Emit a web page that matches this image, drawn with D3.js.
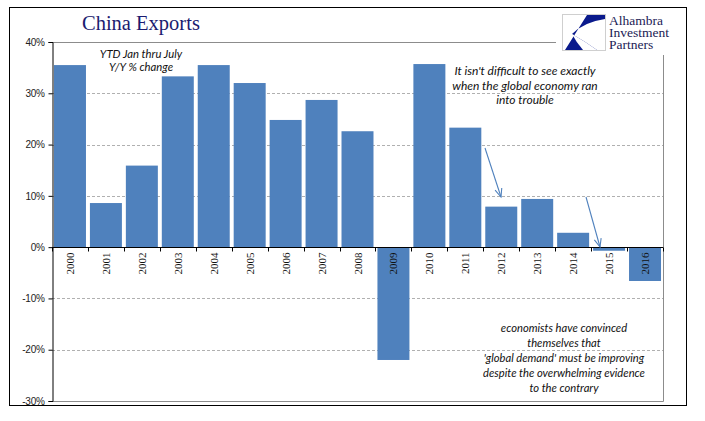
<!DOCTYPE html>
<html><head><meta charset="utf-8">
<script src="https://cdn.jsdelivr.net/npm/d3@7"></script>
<style>body{margin:0;background:#fff}svg{display:block}</style>
</head><body>
<script>
const years = ["2000","2001","2002","2003","2004","2005","2006","2007","2008","2009","2010","2011","2012","2013","2014","2015","2016"];
const values = [35.5, 8.6, 15.9, 33.3, 35.5, 32.0, 24.8, 28.7, 22.6, -22.0, 35.7, 23.3, 7.9, 9.4, 2.8, -0.7, -6.6];
const yTicks = [-30, -20, -10, 0, 10, 20, 30, 40];
const title = "China Exports";
const subtitle = ["YTD Jan thru July", "Y/Y % change"];
const note1 = ["It isn't difficult to see exactly", "when the global economy ran", "into trouble"];
const note2 = ["economists have convinced", "themselves that", "'global demand' must be improving", "despite the overwhelming evidence", "to the contrary"];
const logoText = ["Alhambra", "Investment", "Partners"];

const W = 705, H = 421;
const svg = d3.select("body").append("svg").attr("width", W).attr("height", H);
const L = 52, R = 663, T = 42, B = 401;
const x = d3.scaleBand().domain(years).range([L, R]).paddingInner(0.11).paddingOuter(0.055);
const y = d3.scaleLinear().domain([-30, 40]).range([B, T]);
const barColor = "#4f81bd";

// outer frame
svg.append("rect").attr("x", 9.5).attr("y", 7.5).attr("width", 677).attr("height", 398)
  .attr("fill", "#fff").attr("stroke", "#000").attr("stroke-width", 1);

// gridlines
svg.append("g").selectAll("line").data(yTicks.filter(d => d !== 0 && d !== -30 && d !== 40)).join("line")
  .attr("x1", L).attr("x2", R).attr("y1", d => Math.round(y(d)) + 0.5).attr("y2", d => Math.round(y(d)) + 0.5)
  .attr("stroke", "#b0b0b0").attr("stroke-dasharray", "3,2");

// plot frame (gray)
svg.append("path").attr("d", `M${L},${T + 0.5}H${R + 0.5}V${B + 0.5}H${L}`)
  .attr("fill", "none").attr("stroke", "#8c8c8c");

// bars
svg.append("g").selectAll("rect").data(values).join("rect")
  .attr("x", (d, i) => x(years[i]))
  .attr("width", x.bandwidth())
  .attr("y", d => y(Math.max(0, d)))
  .attr("height", d => Math.abs(y(d) - y(0)))
  .attr("fill", barColor);

// y axis
const yAxis = d3.axisLeft(y).tickValues(yTicks).tickSize(4).tickFormat(d => d + "%");
const gy = svg.append("g").attr("transform", `translate(${L + 0.5},0)`).call(yAxis);
gy.select(".domain").attr("stroke", "#000");
gy.selectAll(".tick line").attr("stroke", "#000");
gy.selectAll(".tick text").attr("x", -8).attr("font-family", "Liberation Sans, Arial, sans-serif")
  .attr("font-size", 10).attr("letter-spacing", "-0.3").attr("fill", "#222");

// x axis at zero
const zeroY = Math.round(y(0)) + 0.5;
svg.append("line").attr("x1", L).attr("x2", R).attr("y1", zeroY).attr("y2", zeroY).attr("stroke", "#000");
const bounds = d3.range(years.length + 1).map(i => L + i * (R - L) / years.length);
svg.append("g").selectAll("line").data(bounds).join("line")
  .attr("x1", d => Math.round(d) + 0.5).attr("x2", d => Math.round(d) + 0.5)
  .attr("y1", zeroY).attr("y2", zeroY + 4).attr("stroke", "#000");
svg.append("g").selectAll("text").data(years).join("text")
  .attr("transform", d => `translate(${x(d) + x.bandwidth() / 2 + 4},${zeroY + 5}) rotate(-90)`)
  .attr("text-anchor", "end")
  .attr("font-family", "Liberation Serif, Times New Roman, serif").attr("font-size", 11).attr("fill", "#111")
  .text(d => d);

// title
svg.append("text").attr("x", 82).attr("y", 30).attr("font-family", "Liberation Serif, Times New Roman, serif")
  .attr("font-size", 20.5).attr("fill", "#1b1b70").text(title);

// logo
const lg = svg.append("g");
lg.append("rect").attr("x", 556).attr("y", 9).attr("width", 128).attr("height", 46).attr("fill", "#fff");
lg.append("rect").attr("x", 562.5).attr("y", 14.5).attr("width", 43).attr("height", 36).attr("fill", "#fff").attr("stroke", "#cfcfcf");
lg.append("path").attr("d", "M587,15 L605,15 L605,19 Q584,22 572,34 Q586,42 597,50 L565,50 Z").attr("fill", "#0a1a8c");
lg.append("path").attr("d", "M572,34 Q586,42 597,50 L583,50 Q576,42 572,34 Z").attr("fill", "#fff");
lg.selectAll("text").data(logoText).join("text")
  .attr("x", 609).attr("y", (d, i) => 25 + i * 12)
  .attr("font-family", "Liberation Serif, Times New Roman, serif").attr("font-size", 13.5).attr("fill", "#1b1b55")
  .text(d => d);

// annotations
function lines(arr, cx, y0, dy, fs) {
  svg.append("g").selectAll("text").data(arr).join("text")
    .attr("x", cx).attr("y", (d, i) => y0 + i * dy).attr("text-anchor", "middle")
    .attr("font-family", "Lato, Open Sans, sans-serif").attr("font-style", "italic")
    .attr("font-size", fs).attr("fill", "#111").text(d => d);
}
lines(subtitle, 141, 58, 13, 11.3);
lines(note1, 525, 75, 14.5, 12);
lines(note2, 564, 332, 15, 11.2);

// arrows
function arrow(x1, y1, x2, y2) {
  svg.append("line").attr("x1", x1).attr("y1", y1).attr("x2", x2).attr("y2", y2)
    .attr("stroke", barColor).attr("stroke-width", 1.1);
  const a = Math.atan2(y2 - y1, x2 - x1), len = 9, sp = 0.4;
  svg.append("path").attr("d",
    `M${x2 - len * Math.cos(a - sp)},${y2 - len * Math.sin(a - sp)} L${x2},${y2} L${x2 - len * Math.cos(a + sp)},${y2 - len * Math.sin(a + sp)}`)
    .attr("fill", "none").attr("stroke", barColor).attr("stroke-width", 1.1);
}
arrow(485, 148, 501, 197);
arrow(586, 197, 600, 247);
</script>
</body></html>
